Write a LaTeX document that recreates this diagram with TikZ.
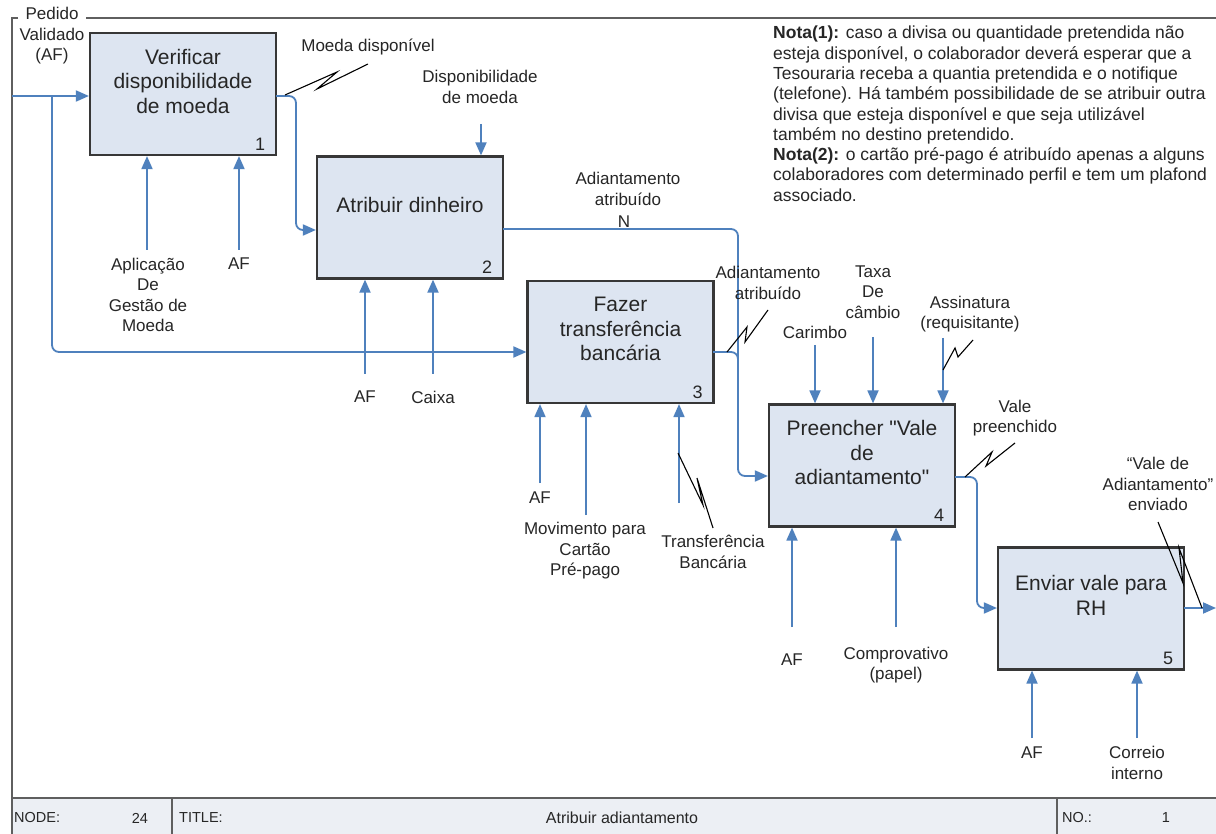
\documentclass[tikz,border=0pt]{standalone}
\usepackage{fontspec}
\setmainfont{Liberation Sans}
\usetikzlibrary{arrows.meta}
\definecolor{flow}{RGB}{79,129,189}
\definecolor{boxfill}{RGB}{221,229,241}
\definecolor{boxline}{RGB}{55,55,55}
\definecolor{frameline}{RGB}{95,95,95}
\definecolor{ink}{RGB}{38,38,38}
\definecolor{barfill}{RGB}{236,239,244}
% straight double quote, taken by glyph name so no ligature mapping turns it curly
\newcommand{\dq}{\XeTeXglyph\XeTeXglyphindex "quotedbl"\relax}
\begin{document}
\begin{tikzpicture}[x=1pt,y=-1pt,
  act/.style={draw=boxline,line width=2.2pt,fill=boxfill,minimum width=186pt,minimum height=122pt,inner sep=0pt},
  acttext/.style={font=\fontsize{21}{24.5}\selectfont,align=center,text=ink,inner sep=0pt},
  num/.style={font=\fontsize{18}{18}\selectfont,text=ink,inner sep=0pt},
  lbl/.style={font=\fontsize{17}{20.5}\selectfont,align=center,text=ink,inner sep=0pt},
  flowline/.style={draw=flow,line width=1.8pt,rounded corners=7pt},
  arr/.style={flowline,-{Triangle[length=13pt,width=11pt]}},
  zig/.style={draw=black,line width=1.1pt,line join=miter},
  frame/.style={draw=frameline,line width=2pt},
  bar/.style={font=\fontsize{14.5}{14.5}\selectfont,text=ink,inner sep=0pt}]

\useasboundingbox (0,0) rectangle (1216,834);
\fill[white] (0,0) rectangle (1216,834);

% diagram frame and title bar
\fill[barfill] (12,798) rectangle (1216,834);
\draw[frame] (18,18) -- (12,18) -- (12,834);
\draw[frame] (86,18) -- (1216,18);
\draw[frame] (12,798) -- (1216,798);
\draw[frame,line width=1.2pt] (172,798) -- (172,834) (1057,798) -- (1057,834);
\node[bar,anchor=west] (nodeL) at (14,818) {NODE:};
\node[bar] (nodeV) at (140,818) {24};
\node[bar,anchor=west] (titleL) at (179,818) {TITLE:};
\node[bar,font=\fontsize{16}{16}\selectfont] (titleV) at (622,818) {Atribuir adiantamento};
\node[bar,anchor=west] (noL) at (1062,818) {NO.:};
\node[bar] (noV) at (1166,818) {1};

% activities
\node[act] (b1) at (183,94) {};
\node[act] (b2) at (410,217.5) {};
\node[act] (b3) at (620.5,342) {};
\node[act] (b4) at (862,465.5) {};
\node[act] (b5) at (1091,608.5) {};
\node[acttext] (t1) at ([yshift=13pt]b1.center) {Verificar\\disponibilidade\\de moeda};
\node[acttext] (t2) at ([yshift=13pt]b2.center) {Atribuir dinheiro};
\node[acttext] (t3) at ([yshift=13pt]b3.center) {Fazer\\transferência\\bancária};
\node[acttext] (t4) at ([yshift=13pt]b4.center) {Preencher \dq Vale\\de\\adiantamento\dq};
\node[acttext] (t5) at ([yshift=13pt]b5.center) {Enviar vale para\\RH};
\node[num] (n1) at ([xshift=-17pt,yshift=12pt]b1.south east) {1};
\node[num] (n2) at ([xshift=-17pt,yshift=12pt]b2.south east) {2};
\node[num] (n3) at ([xshift=-17pt,yshift=12pt]b3.south east) {3};
\node[num] (n4) at ([xshift=-17pt,yshift=12pt]b4.south east) {4};
\node[num] (n5) at ([xshift=-17pt,yshift=12pt]b5.south east) {5};

% inputs and outputs
\coordinate (in) at (12,96);
\coordinate (fork) at (52,96);
\coordinate (forkdown) at (52,352);
\draw[arr] (in) -- (in -| b1.west);
\draw[arr] (fork) -- (forkdown) -- (forkdown -| b3.west);

\coordinate (o1) at (276,96);
\coordinate (d1) at (296,230);
\draw[arr] (o1) -| (d1) -- (d1 -| b2.west);

\coordinate (o2) at (503,229);
\coordinate (d2) at (738,476);
\draw[arr] (o2) -| (d2) -- (d2 -| b4.west);

\coordinate (o3) at (713,352);
\coordinate (j3) at (738,370);
\draw[flowline] (o3) -| (j3);

\coordinate (o4) at (955,477);
\coordinate (d4) at (977,608);
\draw[arr] (o4) -| (d4) -- (d4 -| b5.west);

\coordinate (o5) at (1184,608);
\coordinate (out5) at (1216,608);
\draw[arr] (o5) -- (out5);

% controls
\coordinate (cDisp) at (481,124);
\coordinate (cCar) at (815,345);
\coordinate (cTaxa) at (873,337);
\coordinate (cAss) at (943,338);
\draw[arr] (cDisp) -- (cDisp |- b2.north);
\draw[arr] (cCar) -- (cCar |- b4.north);
\draw[arr] (cTaxa) -- (cTaxa |- b4.north);
\draw[arr] (cAss) -- (cAss |- b4.north);

% mechanisms
\coordinate (mApl) at (147,250);
\coordinate (mAF1) at (239,250);
\coordinate (mAF2) at (365,374);
\coordinate (mCaixa) at (433,374);
\coordinate (mAF3) at (540,483);
\coordinate (mMov) at (586,515);
\coordinate (mTrf) at (679,503);
\coordinate (mAF4) at (792,627);
\coordinate (mComp) at (896,627);
\coordinate (mAF5) at (1032,738);
\coordinate (mCor) at (1137,738);
\draw[arr] (mApl) -- (mApl |- b1.south);
\draw[arr] (mAF1) -- (mAF1 |- b1.south);
\draw[arr] (mAF2) -- (mAF2 |- b2.south);
\draw[arr] (mCaixa) -- (mCaixa |- b2.south);
\draw[arr] (mAF3) -- (mAF3 |- b3.south);
\draw[arr] (mMov) -- (mMov |- b3.south);
\draw[arr] (mTrf) -- (mTrf |- b3.south);
\draw[arr] (mAF4) -- (mAF4 |- b4.south);
\draw[arr] (mComp) -- (mComp |- b4.south);
\draw[arr] (mAF5) -- (mAF5 |- b5.south);
\draw[arr] (mCor) -- (mCor |- b5.south);

% labels
\node[lbl] (lPed) at (52,36) {Pedido\\Validado\\(AF)};
\node[lbl] (lMoeda) at (368,47) {Moeda disponível};
\node[lbl] (lDisp) at (480,87) {Disponibilidade\\de moeda};
\node[lbl] (lApl) at (148,295) {Aplicação\\De\\Gestão de\\Moeda};
\node[lbl] (lAF1) at (239,264) {AF};
\node[lbl] (lAF2) at (365,397) {AF};
\node[lbl] (lCaixa) at (433,397) {Caixa};
\node[lbl] (lAdi1) at (628,189) {Adiantamento\\atribuído};
\node[lbl] (lN) at (624,222) {N};
\node[lbl] (lAdi2) at (768,283) {Adiantamento\\atribuído};
\node[lbl] (lCar) at (815,332) {Carimbo};
\node[lbl] (lTaxa) at (873,292) {Taxa\\De\\câmbio};
\node[lbl] (lAss) at (970,314) {Assinatura\\(requisitante)};
\node[lbl] (lVale) at (1015,418) {Vale\\preenchido};
\node[lbl] (lAF3) at (540,498) {AF};
\node[lbl] (lMov) at (585,551) {Movimento para\\Cartão\\Pré-pago};
\node[lbl] (lTrf) at (713,552) {Transferência\\Bancária};
\node[lbl] (lAF4) at (792,660) {AF};
\node[lbl] (lComp) at (896,665) {Comprovativo\\(papel)};
\node[lbl] (lAF5) at (1032,753) {AF};
\node[lbl] (lCor) at (1137,763) {Correio\\interno};
\node[lbl] (lEnv) at (1158,484) {“Vale de\\Adiantamento”\\enviado};

% squiggles tying labels to their arrows
\draw[zig] (285,95) -- (337,72) -- (317,89) -- (368,64);
\draw[zig] (727,352) -- (747,327) -- (745,342) -- (768,310);
\draw[zig] (943,370) -- (955,348) -- (958,357) -- (973,340);
\draw[zig] (965,477) -- (992,452) -- (986,466) -- (1015,443);
\draw[zig] (678,453) -- (703,505) -- (697,478) -- (713,528);
\draw[zig] (1158,522) -- (1183,583) -- (1179,548) -- (1202,608);

% notes
\node[anchor=north west,align=left,font=\fontsize{17.5}{20.3}\selectfont,text=ink,inner sep=0pt] (note) at (773,26)
{\textbf{Nota(1):} caso a divisa ou quantidade pretendida não\\
esteja disponível, o colaborador deverá esperar que a\\
Tesouraria receba a quantia pretendida e o notifique\\
(telefone). Há também possibilidade de se atribuir outra\\
divisa que esteja disponível e que seja utilizável\\
também no destino pretendido.\\
\textbf{Nota(2):} o cartão pré-pago é atribuído apenas a alguns\\
colaboradores com determinado perfil e tem um plafond\\
associado.};
\end{tikzpicture}
\end{document}
